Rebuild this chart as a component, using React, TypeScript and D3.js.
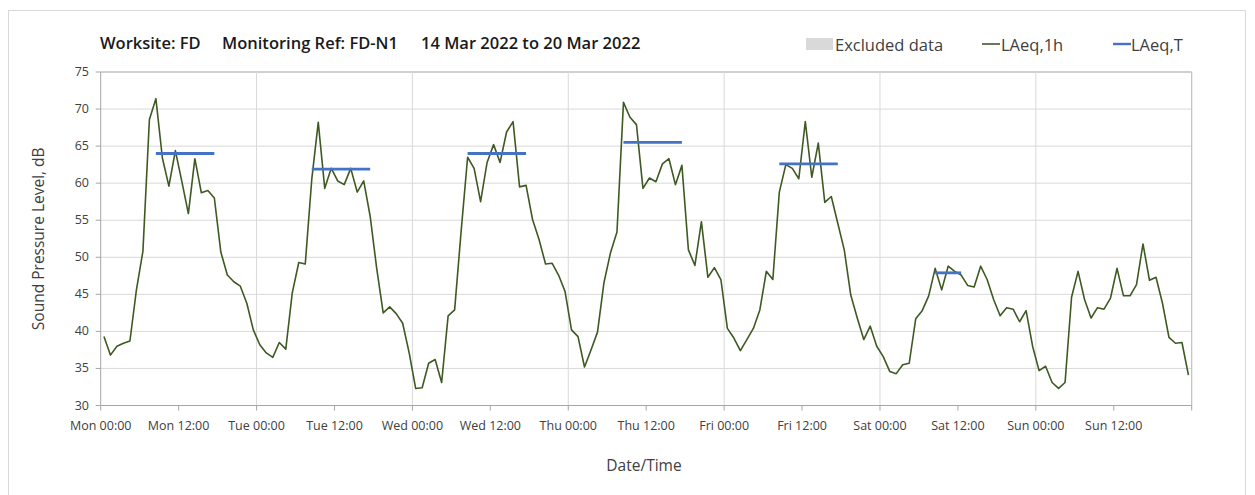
import React from "react";
import * as d3 from "d3";

const title1 = "Worksite: FD";
const title2 = "Monitoring Ref: FD-N1";
const title3 = "14 Mar 2022 to 20 Mar 2022";

const xTickLabels = [
  "Mon 00:00", "Mon 12:00", "Tue 00:00", "Tue 12:00", "Wed 00:00", "Wed 12:00",
  "Thu 00:00", "Thu 12:00", "Fri 00:00", "Fri 12:00", "Sat 00:00", "Sat 12:00",
  "Sun 00:00", "Sun 12:00",
];
const yTicks = [30, 35, 40, 45, 50, 55, 60, 65, 70, 75];

// Hourly LAeq,1h values, Mon 00:00 .. Sun 23:00
const laeq1h = [
  39.3, 36.8, 38.0, 38.4, 38.7, 45.6, 50.8, 68.6, 71.4, 63.4, 59.6, 64.4,
  60.2, 55.9, 63.3, 58.7, 59.0, 58.0, 50.7, 47.6, 46.7, 46.1, 43.8, 40.2,
  38.2, 37.1, 36.5, 38.5, 37.6, 45.2, 49.3, 49.1, 60.5, 68.2, 59.3, 62.0,
  60.3, 59.8, 62.0, 58.8, 60.3, 55.5, 48.5, 42.5, 43.3, 42.4, 41.1, 37.1,
  32.3, 32.4, 35.7, 36.2, 33.1, 42.1, 42.9, 53.5, 63.5, 62.0, 57.5, 62.8,
  65.2, 62.8, 66.9, 68.3, 59.5, 59.7, 55.1, 52.4, 49.1, 49.2, 47.6, 45.4,
  40.2, 39.3, 35.2, 37.5, 39.9, 46.6, 50.6, 53.4, 70.9, 68.9, 67.9, 59.3,
  60.7, 60.2, 62.6, 63.3, 59.8, 62.4, 51.0, 48.9, 54.8, 47.3, 48.6, 47.0,
  40.4, 39.1, 37.4, 38.9, 40.4, 42.9, 48.1, 47.0, 58.8, 62.5, 62.0, 60.6,
  68.3, 60.8, 65.4, 57.4, 58.2, 54.6, 51.0, 44.9, 41.8, 38.9, 40.7, 38.0,
  36.6, 34.6, 34.3, 35.5, 35.7, 41.7, 42.8, 44.8, 48.5, 45.6, 48.8, 48.1,
  47.6, 46.2, 46.0, 48.8, 47.0, 44.3, 42.1, 43.2, 43.0, 41.3, 42.8, 38.0,
  34.7, 35.3, 33.1, 32.3, 33.1, 44.6, 48.1, 44.3, 41.8, 43.2, 43.0, 44.5,
  48.5, 44.8, 44.8, 46.3, 51.8, 46.9, 47.3, 43.8, 39.2, 38.4, 38.5, 34.1,
];

// LAeq,T daytime periods (hour index start/end) and values
const laeqTStart = [8, 32, 56, 80, 104, 128];
const laeqTEnd = [17, 41, 65, 89, 113, 132];
const laeqTValue = [64.0, 61.9, 64.0, 65.5, 62.6, 47.9];

const FONT = "'Open Sans', Lato, sans-serif";

export default function App() {
  const W = 1255, H = 495;
  const x = d3.scaleLinear().domain([0, 168]).range([100.7, 1191.7]);
  const y = d3.scaleLinear().domain([30, 75]).range([405.5, 72]);

  const line = d3.line<number>()
    .x((_, i) => x(i + 0.5))
    .y((d) => y(d));

  const dayLines = d3.range(1, 7).map((d) => d * 24);
  const tickHours = d3.range(0, 169, 12);

  return (
    <svg width={W} height={H} style={{ position: "absolute", left: 0, top: 0, background: "#fff" }}>
      <rect x={8.5} y={10.5} width={1237} height={490} fill="#fff" stroke="#d9d9d9" />
      {yTicks.map((t) => (
        <line key={"g" + t} x1={x(0)} x2={x(168)} y1={y(t)} y2={y(t)}
          stroke={t === 75 ? "#c0c0c0" : "#d9d9d9"} strokeWidth={t === 75 ? 1.5 : 1} />
      ))}
      {dayLines.map((h) => (
        <line key={"v" + h} x1={x(h)} x2={x(h)} y1={y(75)} y2={y(30)} stroke="#d9d9d9" />
      ))}
      <line x1={x(168)} x2={x(168)} y1={y(75)} y2={y(30)} stroke="#bfbfbf" strokeWidth={1.2} />
      <line x1={x(0)} x2={x(0)} y1={y(75)} y2={y(30)} stroke="#a6a6a6" />
      <line x1={x(0)} x2={x(168)} y1={y(30)} y2={y(30)} stroke="#a6a6a6" />
      {yTicks.map((t) => (
        <line key={"yt" + t} x1={x(0) - 5} x2={x(0)} y1={y(t)} y2={y(t)} stroke="#a6a6a6" />
      ))}
      {tickHours.map((h) => (
        <line key={"xt" + h} x1={x(h)} x2={x(h)} y1={y(30)} y2={y(30) + 5} stroke="#a6a6a6" />
      ))}
      {yTicks.map((t) => (
        <text key={"yl" + t} x={89} y={y(t) + 4} textAnchor="end" fontSize={12.5}
          fontFamily={FONT} fill="#404040">{t}</text>
      ))}
      {xTickLabels.map((l, i) => (
        <text key={"xl" + i} x={x(i * 12)} y={430} textAnchor="middle" fontSize={12.5}
          fontFamily={FONT} fill="#404040">{l}</text>
      ))}
      <path d={line(laeq1h) || ""} fill="none" stroke="#3e5a22" strokeWidth={1.6} strokeLinejoin="round" />
      {laeqTValue.map((v, i) => (
        <line key={"t" + i} x1={x(laeqTStart[i] + 0.5)} x2={x(laeqTEnd[i] + 0.5)}
          y1={y(v)} y2={y(v)} stroke="#4472c4" strokeWidth={2.8} />
      ))}
      <text y={49} fontSize={16.5} fontWeight={600} fontFamily={FONT} fill="#1a1a1a">
        <tspan x={100}>{title1}</tspan>
        <tspan x={222}>{title2}</tspan>
        <tspan x={421}>{title3}</tspan>
      </text>
      <text x={644} y={471} textAnchor="middle" fontSize={15.5} fontFamily={FONT} fill="#404040">Date/Time</text>
      <text transform={`translate(44,${y(52.5)}) rotate(-90)`} textAnchor="middle" fontSize={15.5}
        fontFamily={FONT} fill="#404040">Sound Pressure Level, dB</text>
      <rect x={806} y={38} width={27} height={12} fill="#d9d9d9" />
      <text x={835} y={51} fontSize={16.5} fontFamily={FONT} fill="#404040">Excluded data</text>
      <line x1={982} x2={1000} y1={44} y2={44} stroke="#3e5a22" strokeWidth={1.6} />
      <text x={1001} y={51} fontSize={16.5} fontFamily={FONT} fill="#404040">LAeq,1h</text>
      <line x1={1113} x2={1131} y1={44} y2={44} stroke="#4472c4" strokeWidth={2.4} />
      <text x={1131} y={51} fontSize={16.5} fontFamily={FONT} fill="#404040">LAeq,T</text>
    </svg>
  );
}
